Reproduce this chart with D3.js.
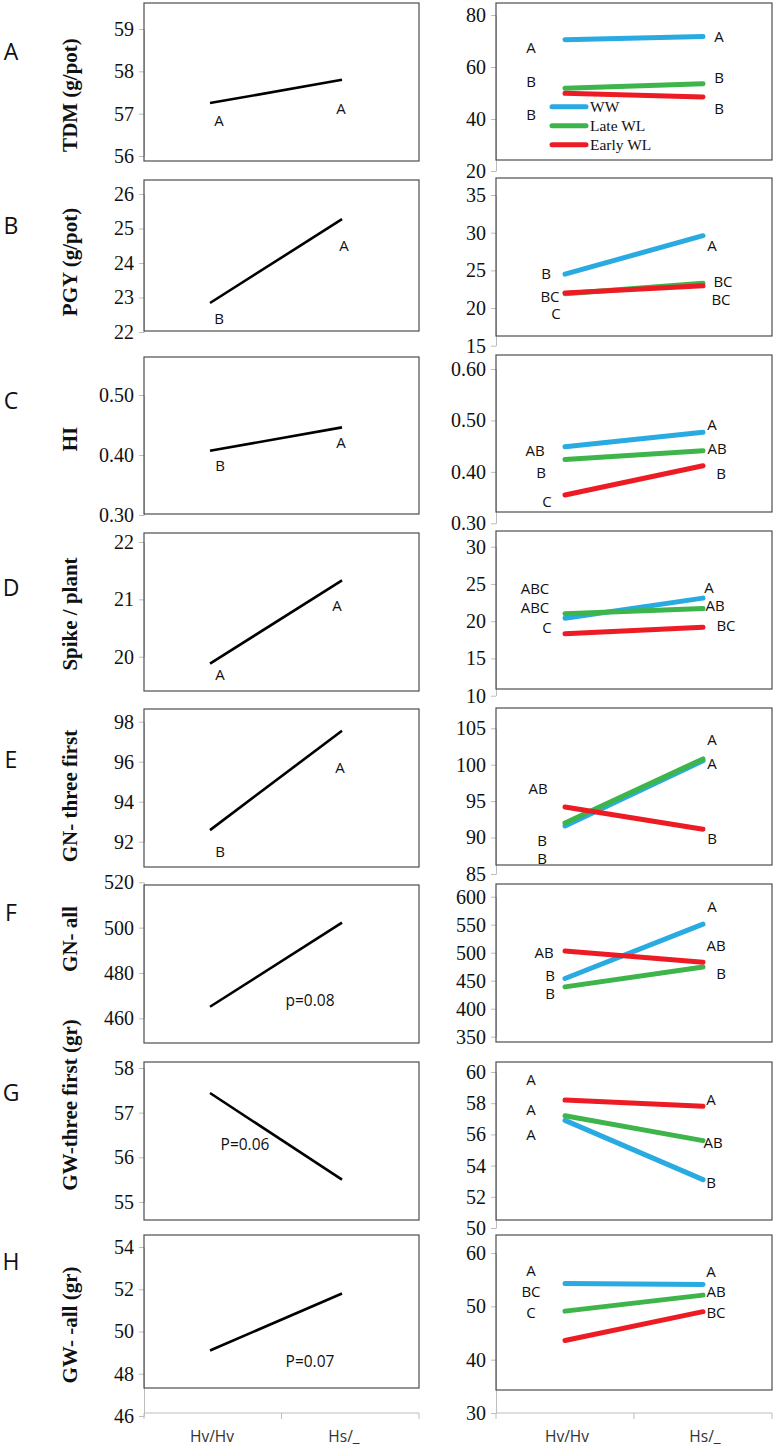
<!DOCTYPE html>
<html><head><meta charset="utf-8">
<script src="https://cdn.jsdelivr.net/npm/d3@7"></script>
<style>body{margin:0;background:#fff}</style>
</head><body><svg id="c" width="774" height="1451"></svg>
<script>
// ---------------- DATA ----------------
const categories = ["Hv/Hv", "Hs/_"];
const seriesNames = ["WW", "Late WL", "Early WL"];
const panelLetters = ["A", "B", "C", "D", "E", "F", "G", "H"];
const traitLabels = ["TDM (g/pot)", "PGY (g/pot)", "HI", "Spike / plant", "GN- three first", "GN- all", "GW-three first (gr)", "GW- -all (gr)"];

// genotype means (left column)
const genotypeMeans = [
  [57.25, 57.80], [22.84, 25.27], [0.407, 0.446], [19.88, 21.33],
  [92.58, 97.55], [465.1, 502.2], [57.44, 55.5], [49.1, 51.8]
];
const genotypeLetters = [["A","A"],["B","A"],["B","A"],["A","A"],["B","A"],null,null,null];
const pNotes = [null, null, null, null, null, "p=0.08", "P=0.06", "P=0.07"];

// genotype x water regime means (right column)
const wwMeans    = [[70.5,71.7],[24.5,29.6],[0.449,0.477],[20.4,23.1],[91.6,100.55],[454,551],[56.9,53.1],[54.3,54.1]];
const lateMeans  = [[51.8,53.6],[21.9,23.3],[0.424,0.441],[21.0,21.7],[92.0,100.8],[439,474.5],[57.2,55.6],[49.1,52.1]];
const earlyMeans = [[49.9,48.5],[22.0,22.95],[0.355,0.412],[18.3,19.2],[94.2,91.15],[503,483],[58.2,57.8],[43.6,49.0]];
const interactionLetters = [
  [["A","B","B"],["A","B","B"]],
  [["B","BC","C"],["A","BC","BC"]],
  [["AB","B","C"],["A","AB","B"]],
  [["ABC","ABC","C"],["A","AB","BC"]],
  [["AB","B","B"],["A","A","B"]],
  [["AB","B","B"],["A","AB","B"]],
  [["A","A","A"],["A","AB","B"]],
  [["A","BC","C"],["A","AB","BC"]]
];

// tick labels
const leftTicks = [[56,57,58,59],[22,23,24,25,26],[0.30,0.40,0.50],[20,21,22],[92,94,96,98],[460,480,500,520],[55,56,57,58],[46,48,50,52,54]];
const rightTicks = [[20,40,60,80],[15,20,25,30,35],[0.30,0.40,0.50,0.60],[10,15,20,25,30],[85,90,95,100,105],[350,400,450,500,550,600],[50,52,54,56,58,60],[30,40,50,60]];
const tickDecimals = [0,0,2,0,0,0,0,0];

// ---------------- LAYOUT ----------------
const layout = [
  {letterY:52, labelY:95,
   L:{box:[3,161], anchor:[[56,156],[59,29]]}, R:{box:[3,160], anchor:[[20,171],[80,15]]},
   lPos:[[9,56.83],[-1,57.12]],
   rPos:[[[-34,67.4],[-34,54.5],[-34,41.8]],[[16,71.7],[16,55.8],[16,43.8]]]},
  {letterY:226, labelY:262,
   L:{box:[180,331], anchor:[[22,332],[26,194]]}, R:{box:[178,336], anchor:[[15,345.7],[35,195]]},
   lPos:[[9,22.39],[2,24.49]],
   rPos:[[[-19,24.6],[-15,21.5],[-9,19.2]],[[9,28.2],[20,23.5],[18,21.1]]]},
  {letterY:401, labelY:439,
   L:{box:[357,514], anchor:[[0.30,515],[0.50,395]]}, R:{box:[355,512], anchor:[[0.30,523.3],[0.60,369]]},
   lPos:[[10,0.3817],[-1,0.4205]],
   rPos:[[[-30,0.4406],[-24,0.3991],[-18,0.342]],[[9,0.4925],[14,0.4444],[18,0.3972]]]},
  {letterY:588, labelY:614,
   L:{box:[533,691], anchor:[[20,656.7],[22,542]]}, R:{box:[531,689], anchor:[[10,695.7],[30,546.7]]},
   lPos:[[10,19.68],[-5,20.88]],
   rPos:[[[-30,24.32],[-30,21.87],[-18,19.18]],[[6,24.55],[12,22.08],[23,19.36]]]},
  {letterY:760, labelY:796,
   L:{box:[709,867], anchor:[[92,841.7],[98,721.7]]}, R:{box:[708,865], anchor:[[85,874],[105,728.3]]},
   lPos:[[10,91.5],[-2,95.72]],
   rPos:[[[-27,96.67],[-23,89.53],[-23,87.06]],[[9,103.4],[9,100.1],[9,89.9]]]},
  {letterY:913, labelY:939,
   L:{box:[885,1043], anchor:[[460,1018.3],[520,882.3]]}, R:{box:[884,1042], anchor:[[350,1036.7],[600,896.7]]},
   pPos:[100,467.7],
   rPos:[[[-21,500],[-15,458.4],[-15,426.3]],[[9,582.1],[13,512],[18,463.2]]]},
  {letterY:1093, labelY:1105,
   L:{box:[1062,1220], anchor:[[55,1202],[58,1068]]}, R:{box:[1062,1220], anchor:[[50,1228],[60,1072]]},
   pPos:[35,56.28],
   rPos:[[[-34,59.49],[-34,57.56],[-34,55.96]],[[8,58.21],[10,55.45],[8,52.88]]]},
  {letterY:1262, labelY:1325,
   L:{box:[1235,1388], anchor:[[46,1416],[54,1247]]}, R:{box:[1235,1390], anchor:[[30,1413],[60,1253]]},
   pPos:[100,48.57],
   rPos:[[[-34,56.62],[-34,52.69],[-34,48.75]],[[8,56.44],[13,52.69],[13,48.75]]]}
];

const LX = {box:[144,419], line:[144,408]};
const RX = {box:[496,772], line:[496,772]};
const seriesColors = ["#29abe2", "#3db54a", "#ed1c24"];
const serif = "'Liberation Serif','Times New Roman',serif";
const sans = "'Open Sans','Noto Sans',sans-serif";
const letterSize = 15;
const axisY = 1413;

const svg = d3.select("#c");
const xL = d3.scalePoint().domain(categories).range(LX.line).padding(0.5);
const xR = d3.scalePoint().domain(categories).range(RX.line).padding(0.5);

function drawAxis(g, y, ticks, dec, x0) {
  const ax = d3.axisLeft(y).tickValues(ticks).tickSize(5).tickSizeOuter(0).tickPadding(5)
    .tickFormat(d3.format("." + dec + "f"));
  const a = g.append("g").attr("transform", `translate(${x0},0)`).call(ax);
  a.select(".domain").attr("stroke", "#bdbdbd");
  a.selectAll(".tick line").attr("stroke", "#bdbdbd");
  a.selectAll(".tick text").attr("font-family", serif).attr("font-size", 20).attr("fill", "#111");
}

layout.forEach((P, i) => {
  const g = svg.append("g");
  // ---- left panel ----
  const yL = d3.scaleLinear().domain([P.L.anchor[0][0], P.L.anchor[1][0]]).range([P.L.anchor[0][1], P.L.anchor[1][1]]);
  drawAxis(g, yL, leftTicks[i], tickDecimals[i], LX.box[0]);
  g.append("rect").attr("x", LX.box[0]).attr("y", P.L.box[0])
    .attr("width", LX.box[1] - LX.box[0]).attr("height", P.L.box[1] - P.L.box[0])
    .attr("fill", "none").attr("stroke", "#4d4d4d").attr("stroke-width", 1.2);
  g.append("path").datum(genotypeMeans[i])
    .attr("d", d3.line().x((d, j) => xL(categories[j])).y(d => yL(d)))
    .attr("fill", "none").attr("stroke", "#000").attr("stroke-width", 2.6);
  if (genotypeLetters[i]) {
    genotypeLetters[i].forEach((t, j) => {
      g.append("text").attr("x", xL(categories[j]) + P.lPos[j][0]).attr("y", yL(P.lPos[j][1]))
        .attr("dy", "0.35em").attr("text-anchor", "middle")
        .attr("font-family", sans).attr("font-size", letterSize).attr("fill", "#111").text(t);
    });
  }
  if (pNotes[i]) {
    g.append("text").attr("x", xL(categories[0]) + P.pPos[0]).attr("y", yL(P.pPos[1]))
      .attr("dy", "0.35em").attr("text-anchor", "middle")
      .attr("font-family", sans).attr("font-size", 15.5).attr("fill", "#111").text(pNotes[i]);
  }
  // panel letter and trait label
  g.append("text").attr("x", 11).attr("y", P.letterY).attr("dy", "0.35em").attr("text-anchor", "middle")
    .attr("font-family", sans).attr("font-size", 23).attr("fill", "#111").text(panelLetters[i]);
  g.append("text").attr("transform", `translate(77,${P.labelY}) rotate(-90)`).attr("text-anchor", "middle")
    .attr("font-family", serif).attr("font-weight", "bold").attr("font-size", 21).attr("fill", "#111")
    .text(traitLabels[i]);

  // ---- right panel ----
  const yR = d3.scaleLinear().domain([P.R.anchor[0][0], P.R.anchor[1][0]]).range([P.R.anchor[0][1], P.R.anchor[1][1]]);
  drawAxis(g, yR, rightTicks[i], tickDecimals[i] === 2 ? 2 : 0, RX.box[0]);
  g.append("rect").attr("x", RX.box[0]).attr("y", P.R.box[0])
    .attr("width", RX.box[1] - RX.box[0]).attr("height", P.R.box[1] - P.R.box[0])
    .attr("fill", "none").attr("stroke", "#4d4d4d").attr("stroke-width", 1.2);
  [wwMeans[i], lateMeans[i], earlyMeans[i]].forEach((vals, s) => {
    g.append("path").datum(vals)
      .attr("d", d3.line().x((d, j) => xR(categories[j])).y(d => yR(d)))
      .attr("fill", "none").attr("stroke", seriesColors[s]).attr("stroke-width", 5)
      .attr("stroke-linecap", "round");
  });
  interactionLetters[i].forEach((col, j) => {
    col.forEach((t, k) => {
      const pos = P.rPos[j][k];
      g.append("text").attr("x", xR(categories[j]) + pos[0]).attr("y", yR(pos[1]))
        .attr("dy", "0.35em").attr("text-anchor", "middle")
        .attr("font-family", sans).attr("font-size", letterSize).attr("fill", "#111").text(t);
    });
  });
  if (i === 0) {
    const leg = g.append("g");
    seriesNames.forEach((n, s) => {
      const ly = 106.7 + s * 19;
      leg.append("line").attr("x1", 552).attr("x2", 586).attr("y1", ly).attr("y2", ly)
        .attr("stroke", seriesColors[s]).attr("stroke-width", 5).attr("stroke-linecap", "round");
      leg.append("text").attr("x", 590).attr("y", ly).attr("dy", "0.35em")
        .attr("font-family", serif).attr("font-size", 15.5).attr("fill", "#111").text(n);
    });
  }
});

// bottom category axes
[[LX, xL], [RX, xR]].forEach(([X, xs]) => {
  const band = d3.scaleBand().domain(categories).range(X.box);
  const g = svg.append("g");
  g.append("line").attr("x1", X.box[0]).attr("x2", X.box[1]).attr("y1", axisY).attr("y2", axisY).attr("stroke", "#bdbdbd");
  [X.box[0], band(categories[1]), X.box[1]].forEach(tx => {
    g.append("line").attr("x1", tx).attr("x2", tx).attr("y1", axisY).attr("y2", axisY + 6).attr("stroke", "#bdbdbd");
  });
  categories.forEach(c => {
    g.append("text").attr("x", xs(c) + 2).attr("y", 1437).attr("dy", "0.35em").attr("text-anchor", "middle")
      .attr("font-family", sans).attr("font-size", 15.5).attr("fill", "#333").text(c);
  });
});
</script></body></html>
